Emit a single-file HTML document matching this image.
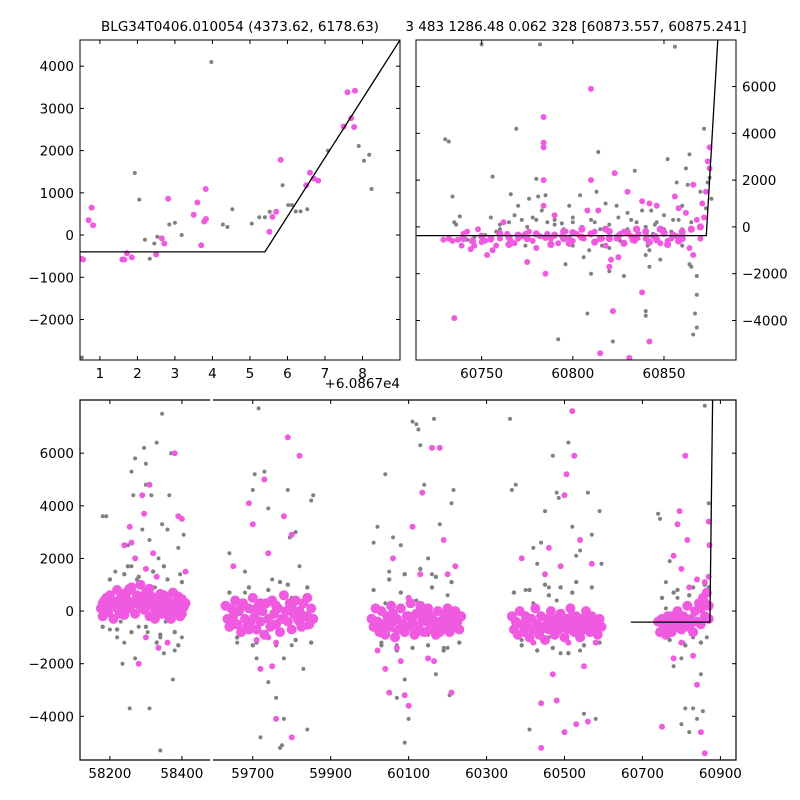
<!DOCTYPE html>
<html><head><meta charset="utf-8"><style>
html,body{margin:0;padding:0;background:#fff;}
svg{display:block;font-family:"DejaVu Sans","Liberation Sans",sans-serif;}
</style></head><body>
<svg id="fig" width="800" height="800" viewBox="0 0 800 800">
<rect width="800" height="800" fill="#fff"/>
<text x="240" y="31" font-size="13.5" text-anchor="middle">BLG34T0406.010054 (4373.62, 6178.63)</text>
<text x="576" y="31" font-size="13.5" text-anchor="middle">3 483 1286.48 0.062 328 [60873.557, 60875.241]</text>
<text x="400" y="388" font-size="13.5" text-anchor="end">+6.0867e4</text>
<g id="p1"></g>
<g id="p2"></g>
<g id="p3"></g>
</svg>
<script>
// ---------- data ----------
const p1Grey = [[1.93,1470],[2.05,840],[2.2,-110],[2.33,-560],[2.45,-200],[2.53,-40],[2.85,250],[3.0,290],[3.18,0],[3.97,4100],[4.28,250],[4.4,190],[4.53,610],[5.05,270],[5.25,420],[5.4,420],[5.53,550],[5.87,1180],[6.02,710],[6.12,710],[6.22,560],[6.35,560],[6.53,610],[7.08,2000],[7.9,2110],[8.04,1760],[8.18,1900],[8.24,1090],[0.52,-2900]];
const p1Mag = [[0.5,-560],[0.55,-580],[0.7,350],[0.78,650],[0.82,230],[1.6,-580],[1.65,-580],[1.72,-430],[1.85,-530],[2.5,-460],[2.65,-80],[2.72,-200],[2.82,860],[3.5,480],[3.6,770],[3.7,-240],[3.78,320],[3.82,1090],[3.83,380],[5.52,80],[5.6,430],[5.7,550],[5.82,1780],[6.5,1180],[6.6,1480],[6.7,1340],[6.82,1290],[7.5,2570],[7.6,3380],[7.7,2770],[7.78,2560],[7.8,3420]];
const p1Model = [[0.47,-400],[5.4,-400],[9.0,4620]];
const p1XTicks = [1,2,3,4,5,6,7,8];
const p1YTicks = [-2000,-1000,0,1000,2000,3000,4000];

const p2Grey = [[60730,3750],[60732,3650],[60734,1300],[60735,200],[60736,100],[60738,450],[60742,-550],[60746,-450],[60750,7800],[60752,-350],[60755,400],[60756,2150],[60758,-200],[60760,100],[60764,-400],[60766,1400],[60768,500],[60769,4200],[60770,900],[60772,300],[60774,-800],[60776,1200],[60778,400],[60780,2050],[60781,1300],[60782,7800],[60783,700],[60785,1350],[60786,200],[60788,-450],[60790,300],[60792,-4800],[60794,150],[60796,-1600],[60798,900],[60800,400],[60802,-300],[60804,1350],[60806,-1300],[60808,-3700],[60809,-1000],[60810,-2000],[60812,200],[60813,1500],[60814,3200],[60816,-800],[60818,1000],[60820,-1900],[60822,-4900],[60824,900],[60826,-600],[60828,-2100],[60830,600],[60832,300],[60834,2400],[60836,-500],[60838,700],[60840,-3600],[60840,-3800],[60841,-800],[60842,-1000],[60842,-1700],[60843,700],[60844,-300],[60846,200],[60848,-1400],[60850,500],[60852,2900],[60854,-200],[60856,7700],[60857,1900],[60858,300],[60860,900],[60862,2500],[60863,1800],[60864,3100],[60864,-1600],[60865,-1700],[60866,-4600],[60867,-3700],[60868,-4300],[60868,-2900],[60868,-2100],[60870,1500],[60872,4200],[60873,800],[60874,1900],[60875,2100],[60876,1200],
[60760,-100],[60765,200],[60775,0],[60780,300],[60790,100],[60795,-100],[60800,200],[60805,0],[60810,300],[60815,-100],[60820,100],[60825,400],[60830,-100],[60835,200],[60840,0],[60841,-400],[60842,-600],[60845,100],[60850,-100],[60855,300],[60860,-100],[60865,200],[60800,-800],[60820,-900],[60840,-1200],[60860,-800]];
const p2Mag = [[60729,-550],[60732,-500],[60734,-600],[60735,-3900],[60737,-550],[60739,-800],[60740,-300],[60742,-200],[60744,-950],[60746,-800],[60748,-100],[60750,-650],[60752,-600],[60753,-1200],[60755,-550],[60756,-1000],[60758,-800],[60760,-500],[60762,200],[60764,-300],[60766,-600],[60768,-700],[60770,-500],[60772,-400],[60774,-300],[60775,-1500],[60776,-200],[60778,-600],[60780,-900],[60782,-400],[60784,4700],[60784,3400],[60784,3600],[60784,2000],[60784,900],[60785,-2000],[60786,-300],[60788,-500],[60790,500],[60792,-700],[60794,-400],[60796,-200],[60798,-500],[60800,-600],[60802,-300],[60804,-400],[60806,-500],[60808,700],[60810,5900],[60810,2000],[60812,-200],[60814,700],[60815,-5400],[60816,-500],[60818,-800],[60820,-1700],[60821,-1400],[60822,-3600],[60823,2300],[60824,-500],[60825,-1300],[60826,-300],[60828,-200],[60830,1500],[60831,-5600],[60832,-400],[60834,-600],[60836,-300],[60838,1100],[60838,-2800],[60840,-500],[60842,1000],[60842,-4900],[60844,-400],[60846,900],[60848,-700],[60850,-300],[60852,-600],[60854,-500],[60856,1300],[60857,-400],[60858,800],[60860,-300],[60862,600],[60864,-900],[60866,1800],[60866,-1200],[60868,300],[60870,-500],[60871,1000],[60872,400],[60873,1500],[60874,2800],[60875,3400],[60875,2500]];
const p2Band = [[60740,-500],[60745,-600],[60750,-400],[60755,-500],[60760,-300],[60765,-450],[60770,-350],[60775,-500],[60780,-300],[60785,-450],[60790,-350],[60795,-500],[60800,-250],[60805,-450],[60810,-300],[60815,-500],[60820,-200],[60825,-400],[60830,-250],[60835,-450],[60840,-200],[60845,-400],[60850,-250],[60855,-350],[60860,-200],[60865,-100],[60870,0],[60795,-200],[60805,-100],[60820,-500],[60835,-100],[60848,-100],[60860,-500],[60798,-700],[60812,-650],[60828,-700],[60842,-650],[60852,-750],[60858,-600],[60788,-750],[60765,-750],[60818,-100],[60833,-550],[60846,-550]];
const p2Model = [[60714,-370],[60873.2,-370],[60879.5,8000]];
const p2XTicks = [60750,60800,60850];
const p2YTicks = [-4000,-2000,0,2000,4000,6000];

const p3Grey = [[58180,3600],[58190,3600],[58200,-700],[58215,1500],[58220,-1000],[58230,-400],[58235,-2000],[58240,-1200],[58250,2500],[58255,-3700],[58260,5300],[58265,4400],[58270,5800],[58275,1200],[58280,-600],[58290,3100],[58295,6200],[58300,4800],[58305,-800],[58310,2700],[58315,4400],[58320,-200],[58325,900],[58330,6400],[58335,2000],[58340,-1000],[58345,3300],[58350,600],[58355,-400],[58360,3100],[58365,4400],[58370,6000],[58375,-2600],[58380,-1500],[58385,700],[58390,2400],[58395,1400],[58400,-1000],[58405,2900],[58345,7500],[58340,-5300],[58310,-3700],[58300,5600],[58270,-1800],[58260,1700],[58350,-1600],
[59640,2200],[59660,-1200],[59680,1500],[59700,4600],[59705,5200],[59710,-1800],[59715,7700],[59720,-4800],[59730,5300],[59740,3900],[59750,1200],[59760,-3300],[59770,-5200],[59775,-5100],[59780,-4100],[59790,4600],[59795,2800],[59800,-1300],[59810,3000],[59820,1700],[59830,-2200],[59840,-4500],[59850,4200],[59855,4400],[59845,-400],[59800,500],[59760,-600],[59720,-500],[59680,700],[59830,300],[59780,-1800],[59740,-2700],
[60010,2600],[60020,3200],[60030,-1200],[60040,5200],[60050,1500],[60060,2800],[60070,-1300],[60080,2500],[60090,-2600],[60100,-4100],[60110,7200],[60120,7100],[60125,6900],[60130,6300],[60140,4800],[60150,2000],[60160,1400],[60165,7300],[60170,-2400],[60180,3300],[60190,-1400],[60200,-1400],[60205,-3200],[60210,4100],[60215,4600],[60090,-5000],[60070,-3300],[60150,-900],[60120,400],[60040,300],[60200,600],
[60360,7300],[60365,4600],[60375,4800],[60390,-1100],[60400,800],[60410,-4500],[60420,2400],[60430,1800],[60440,2600],[60450,3800],[60460,900],[60470,5900],[60480,4500],[60485,4300],[60490,-1600],[60500,-5900],[60510,6400],[60520,3200],[60530,2100],[60540,2300],[60550,-3900],[60560,4500],[60570,2900],[60580,-4100],[60590,3800],[60595,1800],[60420,300],[60480,400],[60540,-1500],[60460,-1000],
[60740,3700],[60745,3500],[60760,1100],[60770,1900],[60780,-2100],[60790,500],[60800,-4300],[60805,-1200],[60810,-3700],[60820,-4600],[60830,-3700],[60840,-4100],[60850,-2400],[60855,-3800],[60860,7800],[60865,-1000],[60870,4100],[60870,900],[60760,100],[60800,-1800],[60830,-1000]];
const p3GreyHalo = [[58180,-600],[58200,1200],[58220,-700],[58240,1400],[58260,-800],[58280,1300],[58300,-600],[58320,1500],[58340,-900],[58360,1200],[58380,-800],[58400,1100],[58330,-1200],[58250,1700],[58350,1700],[58390,-1300],
[59640,700],[59660,-1000],[59690,900],[59710,-1200],[59740,800],[59760,-1300],[59790,1000],[59810,-1100],[59840,900],[59850,-1200],[59700,-1300],[59770,1100],
[60010,800],[60030,-1300],[60050,1200],[60070,-1500],[60090,1400],[60110,-1400],[60130,1600],[60150,-1300],[60170,1300],[60190,-1500],[60210,1100],[60230,-1200],[60080,700],[60160,900],
[60370,700],[60390,-1300],[60410,800],[60430,-1500],[60450,1000],[60470,-1400],[60490,900],[60510,-1600],[60530,1100],[60550,-1300],[60570,900],[60590,-1200],[60460,600],[60520,700],
[60750,500],[60770,-1100],[60790,800],[60810,-1300],[60830,900],[60850,-1200],[60860,1000],[60780,700],[60820,600]];
const p3Mag = [[58240,2500],[58255,3200],[58260,2600],[58270,2000],[58280,-2000],[58290,4400],[58295,3700],[58300,1600],[58310,4800],[58320,2200],[58330,1300],[58335,-1400],[58340,500],[58380,6000],[58390,3600],[58400,3500],[58410,1500],[58250,900],[58300,-1000],[58360,-1200],
[59650,1700],[59690,4100],[59700,3300],[59710,-1100],[59720,-2200],[59730,5000],[59740,2200],[59750,-2100],[59760,-4100],[59780,3600],[59790,6600],[59800,2900],[59820,5900],[59840,-600],[59800,-4800],[59760,-1200],[59700,-200],[59740,-1000],
[60020,-1500],[60040,-2200],[60050,-3100],[60060,2000],[60070,-1400],[60080,-1900],[60090,-3200],[60100,-3600],[60110,3200],[60130,1400],[60135,4500],[60150,-1800],[60160,6200],[60165,-1900],[60180,6200],[60190,2700],[60200,1400],[60210,-3100],[60220,1700],[60100,500],[60060,-700],
[60390,2000],[60420,-1200],[60440,-3500],[60450,1400],[60460,2400],[60470,-2400],[60480,-3400],[60490,1700],[60500,4400],[60505,5200],[60510,-1200],[60520,7600],[60525,5900],[60530,-4300],[60540,2700],[60550,-2100],[60560,-4200],[60570,1800],[60580,-1200],[60440,-5200],[60500,-4600],
[60750,-4400],[60780,2100],[60790,3300],[60795,3800],[60800,1600],[60810,5900],[60815,2700],[60820,900],[60830,-1700],[60840,-2800],[60850,-4600],[60860,-5400],[60870,3400],[60872,2500],[60870,1300],[60860,1100],[60840,1200],[60800,-1200],[60780,-1800]];
const p3Core = [
[58175,100],[58180,-200],[58185,400],[58190,250],[58195,-50],[58200,600],[58205,150],[58210,-300],[58215,350],[58220,800],[58225,0],[58230,500],[58235,200],[58240,-150],[58245,700],[58250,400],[58255,100],[58260,900],[58265,300],[58270,-100],[58275,600],[58280,250],[58285,1000],[58290,450],[58295,50],[58300,700],[58305,300],[58310,-200],[58315,550],[58320,150],[58325,-300],[58330,400],[58335,100],[58340,650],[58345,-100],[58350,300],[58355,0],[58360,500],[58365,-250],[58370,200],[58375,700],[58380,-50],[58385,350],[58390,100],[58395,-200],[58400,450],[58405,150],[58410,300],[58190,500],[58210,200],[58230,-100],[58250,750],[58270,350],[58290,150],[58310,850],[58330,-100],[58350,600],[58370,-300],[58390,550],[58180,300],[58240,250],[58300,250],[58360,200],[58400,-100],
[59630,200],[59635,-300],[59640,-600],[59645,100],[59650,-200],[59655,400],[59660,-500],[59665,0],[59670,-800],[59675,300],[59680,-300],[59685,-600],[59690,100],[59695,-400],[59700,500],[59705,-200],[59710,-700],[59715,200],[59720,-400],[59725,0],[59730,-900],[59735,300],[59740,-300],[59745,-600],[59750,400],[59755,-100],[59760,-500],[59765,100],[59770,-800],[59775,-300],[59780,600],[59785,0],[59790,-400],[59795,300],[59800,-700],[59805,-100],[59810,400],[59815,-300],[59820,0],[59825,-600],[59830,300],[59835,-200],[59840,500],[59845,-500],[59850,100],[59855,-300],[59650,-500],[59690,-700],[59720,300],[59760,200],[59800,200],[59840,-200],[59670,200],[59710,100],[59780,-300],[59820,-400],
[60005,-300],[60010,-600],[60015,100],[60020,-400],[60025,-800],[60030,0],[60035,-500],[60040,-900],[60045,-200],[60050,-600],[60055,200],[60060,-400],[60065,-1000],[60070,-300],[60075,-700],[60080,100],[60085,-500],[60090,-800],[60095,-200],[60100,-600],[60105,300],[60110,-400],[60115,-900],[60120,-100],[60125,-600],[60130,200],[60135,-300],[60140,-800],[60145,-400],[60150,100],[60155,-700],[60160,-200],[60165,-500],[60170,-900],[60175,0],[60180,-400],[60185,-700],[60190,-100],[60195,-500],[60200,-300],[60205,-800],[60210,-200],[60215,-600],[60220,0],[60225,-400],[60230,-700],[60235,-200],[60030,-600],[60060,-100],[60100,-200],[60140,-100],[60180,-800],[60220,-500],[60050,-300],[60120,-800],[60160,-700],[60200,100],
[60365,-200],[60370,-700],[60375,-400],[60380,-900],[60385,0],[60390,-500],[60395,-800],[60400,-200],[60405,-600],[60410,-1000],[60415,-300],[60420,-700],[60425,100],[60430,-500],[60435,-900],[60440,-200],[60445,-600],[60450,-1100],[60455,-300],[60460,-700],[60465,0],[60470,-500],[60475,-900],[60480,-300],[60485,-700],[60490,-100],[60495,-600],[60500,-1000],[60505,-300],[60510,-700],[60515,100],[60520,-500],[60525,-800],[60530,-200],[60535,-600],[60540,-1000],[60545,-300],[60550,-700],[60555,0],[60560,-500],[60565,-800],[60570,-200],[60575,-600],[60580,-400],[60585,-900],[60590,-300],[60595,-600],[60400,-500],[60440,-700],[60480,-600],[60520,-200],[60560,-300],[60460,-300],[60500,-500],[60540,-400],
[60740,-400],[60745,-800],[60750,-300],[60755,-600],[60760,-900],[60765,-200],[60770,-500],[60775,-800],[60780,-300],[60785,-600],[60790,0],[60795,-400],[60800,-700],[60805,-200],[60810,-500],[60815,200],[60820,-600],[60825,-300],[60830,-800],[60835,0],[60840,-400],[60845,300],[60850,-500],[60855,500],[60860,-200],[60865,700],[60870,-300],[60870,200],[60860,300],[60850,100],[60800,-300],[60760,-500],[60830,-400],[60775,-200]];
const p3Model = [[60670,-420],[60873,-420],[60880,8020]];
const p3XTicksA = [58200,58400];
const p3XTicksB = [59700,59900,60100,60300,60500,60700,60900];
const p3YTicks = [-4000,-2000,0,2000,4000,6000];

// ---------- helpers ----------
const NS='http://www.w3.org/2000/svg';
function mk(parent,tag,attrs){const e=document.createElementNS(NS,tag);for(const k in attrs)e.setAttribute(k,attrs[k]);parent.appendChild(e);return e;}
function lin(d0,d1,r0,r1){return v=>r0+(v-d0)*(r1-r0)/(d1-d0);}
const GREY='#808080', MAG='#f05ae0';
function dots(g,arr,sx,sy,r,col,name,clip){
  for(const p of arr){
    const c=mk(g,'circle',{cx:sx(p[0]).toFixed(1),cy:sy(p[1]).toFixed(1),r:r,fill:col});
    if(clip)c.setAttribute('clip-path',clip);
    
    
  }
}
function model(g,arr,sx,sy,clip){
  const l=mk(g,'polyline',{points:arr.map(p=>sx(p[0]).toFixed(1)+','+sy(p[1]).toFixed(1)).join(' '),fill:'none',stroke:'#000','stroke-width':1.3,'clip-path':clip});
  
  
}
function clipRect(id,x,y,w,h){const d=mk(document.getElementById('fig'),'clipPath',{id:id});mk(d,'rect',{x:x,y:y,width:w,height:h});return 'url(#'+id+')';}
function xticks(g,ticks,sx,y0,y1,lab){
  for(const t of ticks){const x=sx(t);
    mk(g,'line',{x1:x,x2:x,y1:y1,y2:y1-4,stroke:'#000'});mk(g,'line',{x1:x,x2:x,y1:y0,y2:y0+4,stroke:'#000'});
    const tx=mk(g,'text',{x:x,y:y1+18,'font-size':13.5,'text-anchor':'middle'});tx.textContent=lab?lab(t):t;
    
    }
}
function yticks(g,ticks,sy,x0,x1,right){
  for(const t of ticks){const y=sy(t);
    mk(g,'line',{x1:x0,x2:x0+4,y1:y,y2:y,stroke:'#000'});mk(g,'line',{x1:x1,x2:x1-4,y1:y,y2:y,stroke:'#000'});
    const s=t<0?'\u2212'+(-t):''+t;
    const tx=right?mk(g,'text',{x:x1+6,y:y+5,'font-size':13.5,'text-anchor':'start'}):mk(g,'text',{x:x0-6,y:y+5,'font-size':13.5,'text-anchor':'end'});
    tx.textContent=s;
    
    }
}

// ---------- panel 1 ----------
(function(){
  const g=document.getElementById('p1');
  const sx=lin(0.47,9.0,80,400), sy=lin(-2960,4620,360,40);
  const cp=clipRect('c1',80,40,320,320);
  dots(g,p1Grey,sx,sy,2,GREY,'grey-point',cp);
  dots(g,p1Mag,sx,sy,3,MAG,'magenta-point',cp);
  model(g,p1Model,sx,sy,cp);
  xticks(g,p1XTicks,sx,40,360);
  yticks(g,p1YTicks,sy,80,400,false);
  const f=mk(g,'rect',{x:80,y:40,width:320,height:320,fill:'none',stroke:'#000','stroke-width':1});
  
  
})();
// ---------- panel 2 ----------
(function(){
  const g=document.getElementById('p2');
  const sx=lin(60714,60889.5,416,736), sy=lin(-5690,7990,360,40);
  const cp=clipRect('c2',416,40,320,320);
  dots(g,p2Grey,sx,sy,2,GREY,'grey-point',cp);
  dots(g,p2Band,sx,sy,3.6,MAG,'magenta-point',cp);
  dots(g,p2Mag,sx,sy,3,MAG,'magenta-point',cp);
  model(g,p2Model,sx,sy,cp);
  xticks(g,p2XTicks,sx,40,360);
  yticks(g,p2YTicks,sy,416,736,true);
  const f=mk(g,'rect',{x:416,y:40,width:320,height:320,fill:'none',stroke:'#000','stroke-width':1});
  
  
})();
// ---------- panel 3 (broken x axis) ----------
(function(){
  const g=document.getElementById('p3');
  const sy=lin(-5660,8020,760,400);
  const sxA=lin(58117,58478,80,210), sxB=lin(59598,60940,213,736);
  const cpA=clipRect('c3a',80,400,130,360), cpB=clipRect('c3b',213,400,523,360);
  function split(arr){return [arr.filter(p=>p[0]<59000),arr.filter(p=>p[0]>=59000)];}
  const [gA,gB]=split(p3Grey),[hA,hB]=split(p3GreyHalo),[mA,mB]=split(p3Mag),[cA,cB]=split(p3Core);
  dots(g,gA,sxA,sy,2,GREY,'grey-point',cpA);dots(g,gB,sxB,sy,2,GREY,'grey-point',cpB);
  dots(g,hA,sxA,sy,2.2,GREY,'grey-point',cpA);dots(g,hB,sxB,sy,2.2,GREY,'grey-point',cpB);
  dots(g,cA,sxA,sy,5,MAG,'magenta-point',cpA);dots(g,cB,sxB,sy,5,MAG,'magenta-point',cpB);
  dots(g,mA,sxA,sy,3,MAG,'magenta-point',cpA);dots(g,mB,sxB,sy,3,MAG,'magenta-point',cpB);
  model(g,p3Model,sxB,sy,cpB);
  xticks(g,p3XTicksA,sxA,400,760);
  xticks(g,p3XTicksB,sxB,400,760);
  yticks(g,p3YTicks,sy,80,736,false);
  const st={stroke:'#000','stroke-width':1.2,fill:'none'};
  mk(g,'polyline',Object.assign({points:'210,400 80,400 80,760 210,760'},st));
  mk(g,'polyline',Object.assign({points:'213,400 736,400 736,760 213,760'},st));
})();
</script>
</body></html>
